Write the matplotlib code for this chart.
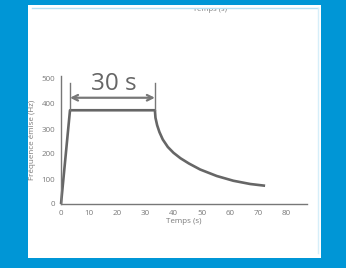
import matplotlib
matplotlib.use("Agg")
import matplotlib.pyplot as plt
from matplotlib.patches import Rectangle
from matplotlib.lines import Line2D

# Data
time_s = [0, 3.2, 33.4, 33.6, 34.2, 35.0, 36.2, 38.0, 40.0, 42.5, 45.5, 49.5, 55.4, 61.3, 67.3, 72.6]
freq_hz = [0, 375, 375, 345, 315, 288, 258, 228, 205, 183, 162, 138, 112, 93, 80, 73]
x_ticks = [0, 10, 20, 30, 40, 50, 60, 70, 80]
y_ticks = [0, 100, 200, 300, 400, 500]
span_start, span_end, span_level = 3.2, 33.4, 425
span_label = "30 s"
x_label = "Temps (s)"
y_label = "Fréquence émise (Hz)"

plt.rcParams['font.family'] = ['Open Sans', 'DejaVu Sans']
W, H = 346, 268
fig = plt.figure(figsize=(W / 100, H / 100), dpi=100)
fig.patch.set_facecolor('#0096D6')

panel = Rectangle((28 / W, 1 - 258 / H), (321 - 28) / W, (258 - 5) / H,
                  transform=fig.transFigure, facecolor='white', edgecolor='none', zorder=-2)
fig.patches.append(panel)
clip_rect = Rectangle((28 / W, 1 - 258 / H), (321 - 28) / W, (258 - 8.5) / H,
                      transform=fig.transFigure, facecolor='none', edgecolor='none')
fig.lines.append(Line2D([32 / W, 318 / W], [1 - 8 / H, 1 - 8 / H], transform=fig.transFigure,
                        color='#B5E1F5', lw=1.0, zorder=-1))
fig.lines.append(Line2D([318 / W, 318 / W], [1 - 8 / H, 1 - 253 / H], transform=fig.transFigure,
                        color='#D6EEF9', lw=1.0, zorder=-1))
top_txt = fig.text(210 / W, 1 - 11 / H, x_label, ha='center', va='baseline',
                   fontsize=5.5, color='#808080', zorder=-1)
top_txt.set_clip_path(clip_rect)

ax = fig.add_axes([61 / W, 1 - 204 / H, 246 / W, 128 / H])
ax.set_zorder(2)
ax.set_facecolor('none')
ax.plot(time_s, freq_hz, color='#666666', lw=1.9, solid_capstyle='butt',
        solid_joinstyle='round', clip_on=False)
ax.set_xlim(0, 87.5)
ax.set_ylim(0, 512)
ax.set_xticks(x_ticks)
ax.set_yticks(y_ticks)
ax.tick_params(length=0, labelsize=5.8, colors='#7a7a7a', pad=4)
for s in ['top', 'right']:
    ax.spines[s].set_visible(False)
for s in ['left', 'bottom']:
    ax.spines[s].set_color('#777777')
    ax.spines[s].set_linewidth(1.0)
ax.set_xlabel(x_label, fontsize=5.8, color='#7a7a7a', labelpad=1)
ax.set_ylabel(y_label, fontsize=5.8, color='#7a7a7a', labelpad=4)

# span annotation
for xv in [span_start, span_end]:
    ax.plot([xv, xv], [375, 485], color='#777777', lw=1.0, clip_on=False)
ax.annotate('', xy=(span_start, span_level), xytext=(span_end, span_level),
            arrowprops=dict(arrowstyle='<->', color='#777777', lw=1.6,
                            shrinkA=0, shrinkB=0, mutation_scale=10))
ax.text((span_start + span_end) / 2 + 0.4, 456, span_label, ha='center', va='baseline',
        fontsize=17.5, color='#666666')

fig.savefig('out.png', dpi=100, facecolor=fig.get_facecolor())
